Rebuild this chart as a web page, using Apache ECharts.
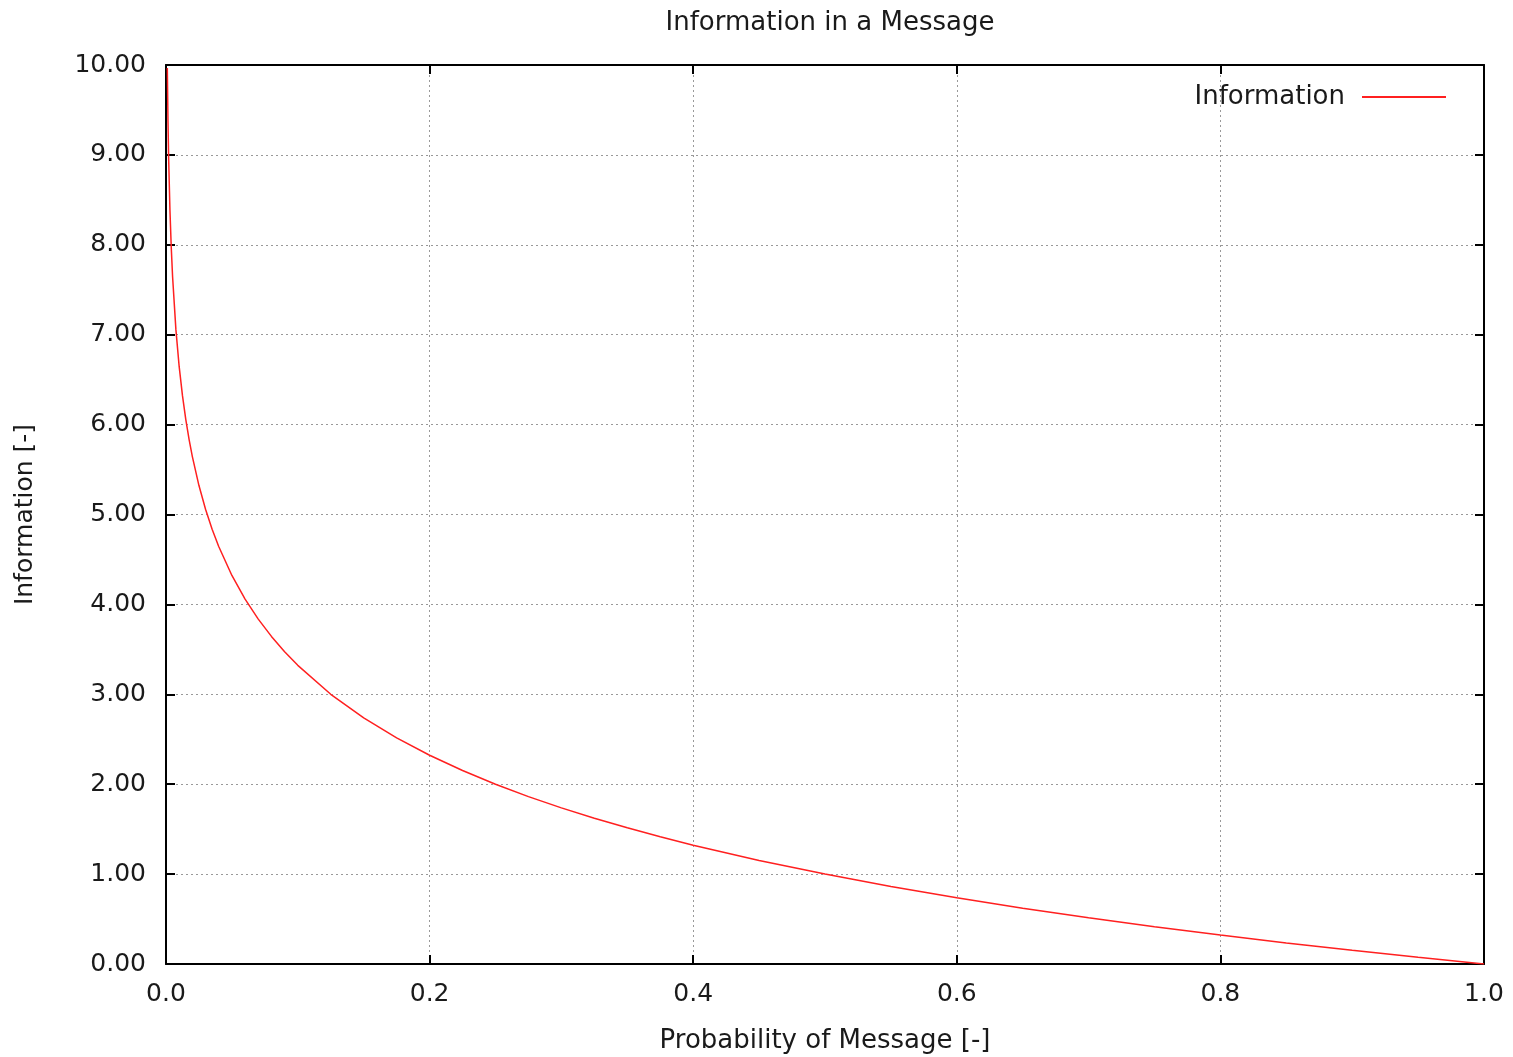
<!DOCTYPE html>
<html>
<head>
<meta charset="utf-8">
<script src="https://cdn.jsdelivr.net/npm/echarts@6/dist/echarts.min.js"></script>
<style>
  html, body { margin: 0; padding: 0; background: #fff; }
  #chart { width: 1513px; height: 1057px; }
</style>
</head>
<body>
<div id="chart"></div>
<script>
// probability of message (x) and information (y)
var probability = [0.001, 0.0015, 0.002, 0.003, 0.004, 0.005, 0.0075, 0.01, 0.0125, 0.015, 0.0175, 0.02, 0.025, 0.03, 0.035, 0.04, 0.05, 0.06, 0.07, 0.08, 0.09, 0.1, 0.125, 0.15, 0.175, 0.2, 0.225, 0.25, 0.275, 0.3, 0.325, 0.35, 0.375, 0.4, 0.45, 0.5, 0.55, 0.6, 0.65, 0.7, 0.75, 0.8, 0.85, 0.9, 0.95, 1.0]
var information = [9.966, 9.381, 8.966, 8.381, 7.966, 7.644, 7.059, 6.644, 6.322, 6.059, 5.836, 5.644, 5.322, 5.059, 4.836, 4.644, 4.322, 4.059, 3.836, 3.644, 3.474, 3.322, 3.000, 2.737, 2.515, 2.322, 2.152, 2.000, 1.862, 1.737, 1.621, 1.515, 1.415, 1.322, 1.152, 1.000, 0.862, 0.737, 0.621, 0.515, 0.415, 0.322, 0.234, 0.152, 0.074, 0.000]
var xTicks = [0, 1, 0.2]   // min, max, interval
var yTicks = [0, 10, 1]

var font = 'DejaVu Sans'
var points = probability.map(function (p, i) { return [p, information[i]] })

var chart = echarts.init(document.getElementById('chart'))
var axisLine = { show: true, onZero: false, lineStyle: { color: '#000', width: 2 } }
var tick = { show: true, inside: true, length: 9, lineStyle: { color: '#000', width: 2 } }
var gridLine = { show: true, lineStyle: { color: '#999', type: [2, 3], width: 1 } }

chart.setOption({
  animation: false,
  title: {
    text: 'Information in a Message',
    left: 825,
    textAlign: 'center',
    top: 5,
    textStyle: { fontFamily: font, fontWeight: 'normal', fontSize: 26, color: '#1a1a1a' }
  },
  legend: {
    data: ['Information'],
    right: 62,
    top: 79,
    align: 'right',
    itemWidth: 84,
    itemHeight: 2,
    icon: 'rect',
    textStyle: { fontFamily: font, fontSize: 26, color: '#1a1a1a', padding: [0, 12, 0, 0] }
  },
  grid: { left: 166, right: 29, top: 65, bottom: 93, containLabel: false, outerBoundsMode: 'none' },
  xAxis: [{
    type: 'value',
    min: xTicks[0], max: xTicks[1], interval: xTicks[2],
    name: 'Probability of Message [-]',
    nameLocation: 'middle',
    nameGap: 64,
    nameTextStyle: { fontFamily: font, fontSize: 26, color: '#1a1a1a' },
    axisLine: axisLine,
    axisTick: tick,
    splitLine: gridLine,
    axisLabel: { fontFamily: font, fontSize: 25, color: '#1a1a1a', margin: 18, formatter: function (v) { return v.toFixed(1) } }
  }, {
    type: 'value',
    position: 'top',
    min: xTicks[0], max: xTicks[1], interval: xTicks[2],
    axisLine: axisLine,
    axisTick: tick,
    splitLine: { show: false },
    axisLabel: { show: false }
  }],
  yAxis: [{
    type: 'value',
    min: yTicks[0], max: yTicks[1], interval: yTicks[2],
    name: 'Information [-]',
    nameLocation: 'middle',
    nameGap: 128,
    nameTextStyle: { fontFamily: font, fontSize: 25, color: '#1a1a1a' },
    axisLine: axisLine,
    axisTick: tick,
    splitLine: gridLine,
    axisLabel: { fontFamily: font, fontSize: 25, color: '#1a1a1a', margin: 20, formatter: function (v) { return v.toFixed(2) } }
  }, {
    type: 'value',
    position: 'right',
    min: yTicks[0], max: yTicks[1], interval: yTicks[2],
    axisLine: axisLine,
    axisTick: tick,
    splitLine: { show: false },
    axisLabel: { show: false }
  }],
  series: [{
    name: 'Information',
    type: 'line',
    data: points,
    showSymbol: false,
    lineStyle: { color: '#ff2020', width: 1.5 },
    itemStyle: { color: '#ff2020' }
  }]
})
</script>
</body>
</html>
